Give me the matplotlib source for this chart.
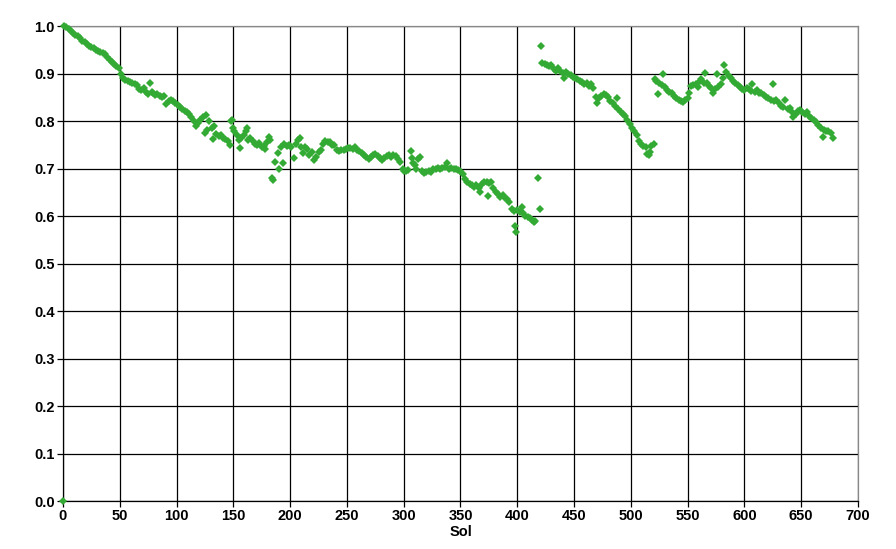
import matplotlib
matplotlib.use("Agg")
import matplotlib.pyplot as plt

# sol number and solar array dust factor
sol = [0,
       1, 3, 5, 7, 9, 11, 13, 15, 17, 19, 21, 23, 25, 27, 29, 31, 33, 35, 37, 39,
       41, 43, 45, 47, 49, 51, 53, 55, 57, 59, 61, 63, 65, 67, 69, 71, 73, 75, 77, 78,
       79, 81, 83, 85, 87, 89, 91, 93, 95, 97, 99, 101, 103, 105, 107, 109, 111, 113, 115, 117,
       119, 121, 123, 125, 126, 127, 129, 131, 132, 133, 135, 137, 139, 141, 143, 145, 147, 148, 149, 150,
       151, 153, 155, 156, 157, 159, 161, 162, 163, 165, 167, 169, 171, 173, 175, 177, 178, 180, 181, 182,
       184, 185, 187, 189, 190, 192, 194, 195, 197, 199, 201, 203, 205, 207, 209, 210, 211, 213, 215, 217,
       219, 221, 223, 225, 227, 229, 231, 233, 235, 237, 239, 241, 243, 245, 247, 249, 251, 253, 255, 257,
       259, 261, 263, 265, 267, 269, 271, 273, 275, 277, 279, 281, 283, 285, 287, 289, 291, 293, 295, 297,
       299, 300, 302, 304, 306, 307, 308, 310, 311, 313, 314, 316, 318, 320, 322, 324, 326, 328, 330, 332,
       334, 336, 338, 340, 342, 344, 346, 348, 350, 352, 354, 356, 358, 360, 362, 364, 366, 367, 369, 371,
       373, 374, 375, 377, 379, 381, 383, 385, 387, 389, 391, 393, 395, 397, 398, 399, 400, 402, 404, 405,
       407, 409, 411, 413, 415, 416, 418, 420,
       421, 422, 424, 426, 428, 430, 432, 434, 436, 438, 440, 441, 443, 445, 447, 449, 451, 453, 455, 457,
       459, 461, 463, 465, 467, 469, 470, 472, 474, 476, 478, 480, 482, 484, 486, 488, 489, 491, 493, 495,
       497, 499, 501, 503, 505, 507, 509, 511, 513, 514, 516, 517, 518, 520,
       521, 522, 524, 525, 527, 528, 530, 532, 534, 536, 538, 540, 542, 544, 546, 548, 550, 551, 553, 555,
       557, 559, 561, 562, 564, 565, 567, 569, 571, 572, 574, 576, 577, 579, 581, 582, 584, 586, 588, 590,
       592, 594, 596, 598, 600, 602, 604, 606, 607, 609, 611, 613, 615, 617, 619, 621, 623, 625, 626, 628,
       630, 632, 634, 636, 638, 640, 642, 643, 645, 647, 649, 651, 653, 655, 657, 659, 661, 663, 665, 667,
       669, 670, 672, 674, 676, 678]

dust_factor = [0.0,
       1.000, 0.998, 0.994, 0.990, 0.986, 0.982, 0.979, 0.975, 0.968, 0.966, 0.962, 0.958, 0.955, 0.953, 0.950, 0.947, 0.945, 0.944, 0.941, 0.934,
       0.929, 0.925, 0.920, 0.916, 0.912, 0.898, 0.890, 0.887, 0.884, 0.882, 0.879, 0.878, 0.876, 0.868, 0.865, 0.870, 0.862, 0.857, 0.880, 0.861,
       0.858, 0.855, 0.856, 0.853, 0.850, 0.852, 0.836, 0.842, 0.845, 0.843, 0.838, 0.834, 0.830, 0.826, 0.822, 0.818, 0.814, 0.808, 0.800, 0.790,
       0.795, 0.803, 0.808, 0.775, 0.812, 0.782, 0.800, 0.785, 0.763, 0.790, 0.772, 0.768, 0.770, 0.765, 0.762, 0.758, 0.750, 0.800, 0.802, 0.786,
       0.778, 0.770, 0.760, 0.743, 0.765, 0.770, 0.778, 0.785, 0.760, 0.764, 0.757, 0.752, 0.750, 0.754, 0.746, 0.748, 0.742, 0.755, 0.767, 0.760,
       0.680, 0.676, 0.713, 0.732, 0.700, 0.745, 0.711, 0.752, 0.748, 0.750, 0.746, 0.722, 0.752, 0.760, 0.764, 0.746, 0.733, 0.745, 0.742, 0.728,
       0.735, 0.718, 0.725, 0.735, 0.740, 0.752, 0.757, 0.755, 0.756, 0.750, 0.749, 0.738, 0.736, 0.740, 0.739, 0.742, 0.743, 0.744, 0.742, 0.745,
       0.740, 0.736, 0.732, 0.728, 0.724, 0.720, 0.724, 0.728, 0.730, 0.726, 0.722, 0.718, 0.722, 0.726, 0.728, 0.724, 0.728, 0.726, 0.720, 0.714,
       0.700, 0.695, 0.694, 0.697, 0.736, 0.722, 0.712, 0.708, 0.700, 0.720, 0.724, 0.694, 0.690, 0.692, 0.694, 0.693, 0.698, 0.700, 0.702, 0.698,
       0.701, 0.703, 0.712, 0.700, 0.702, 0.698, 0.700, 0.696, 0.694, 0.688, 0.678, 0.672, 0.668, 0.665, 0.662, 0.666, 0.660, 0.650, 0.668, 0.672,
       0.672, 0.643, 0.670, 0.671, 0.660, 0.650, 0.646, 0.640, 0.645, 0.638, 0.635, 0.630, 0.614, 0.610, 0.578, 0.567, 0.613, 0.608, 0.620, 0.606,
       0.600, 0.598, 0.595, 0.592, 0.588, 0.590, 0.680, 0.614,
       0.958, 0.922, 0.920, 0.918, 0.915, 0.918, 0.910, 0.906, 0.912, 0.905, 0.902, 0.890, 0.903, 0.898, 0.896, 0.893, 0.890, 0.888, 0.884, 0.882,
       0.878, 0.880, 0.874, 0.878, 0.870, 0.850, 0.838, 0.848, 0.852, 0.856, 0.855, 0.850, 0.843, 0.838, 0.832, 0.848, 0.826, 0.820, 0.815, 0.810,
       0.802, 0.794, 0.786, 0.778, 0.770, 0.758, 0.752, 0.748, 0.746, 0.730, 0.728, 0.735, 0.748, 0.752,
       0.889, 0.884, 0.857, 0.880, 0.876, 0.899, 0.872, 0.866, 0.862, 0.858, 0.853, 0.848, 0.845, 0.842, 0.840, 0.845, 0.848, 0.858, 0.874, 0.876,
       0.878, 0.872, 0.884, 0.888, 0.880, 0.902, 0.880, 0.874, 0.870, 0.859, 0.868, 0.900, 0.872, 0.878, 0.890, 0.918, 0.904, 0.895, 0.890, 0.885,
       0.880, 0.876, 0.872, 0.868, 0.866, 0.870, 0.868, 0.864, 0.878, 0.862, 0.866, 0.860, 0.858, 0.855, 0.850, 0.848, 0.845, 0.878, 0.842, 0.844,
       0.838, 0.832, 0.830, 0.844, 0.826, 0.827, 0.820, 0.809, 0.815, 0.822, 0.824, 0.818, 0.815, 0.818, 0.810, 0.806, 0.803, 0.798, 0.792, 0.786,
       0.766, 0.782, 0.780, 0.779, 0.775, 0.764]

x_ticks = list(range(0, 701, 50))
y_ticks = [i / 10 for i in range(11)]

plt.rcParams['font.family'] = ['Liberation Sans', 'DejaVu Sans']

fig = plt.figure(figsize=(8.96, 5.49), dpi=100)
ax = fig.add_axes([0.0703, 0.0874, 0.8873, 0.8652])

ax.plot(sol, dust_factor, linestyle='none', marker='D', markersize=3.7,
        color='#33AA33', markeredgewidth=0, clip_on=False, zorder=3)

ax.set_xlim(0, 700)
ax.set_ylim(0, 1.0)
ax.set_xticks(x_ticks)
ax.set_yticks(y_ticks)
ax.set_yticklabels(['%.1f' % v for v in y_ticks])
ax.grid(True, color='black', linewidth=0.9)
ax.set_axisbelow(True)

for lbl in ax.get_xticklabels() + ax.get_yticklabels():
    lbl.set_fontweight('bold')
    lbl.set_fontsize(10.5)
ax.tick_params(direction='out', length=4, width=0.9, color='black', pad=2)

ax.set_xlabel('Sol', fontsize=10.5, fontweight='bold', labelpad=1)

ax.spines['left'].set_color('black')
ax.spines['bottom'].set_color('black')
ax.spines['top'].set_color('#888888')
ax.spines['right'].set_color('#888888')
for s in ax.spines.values():
    s.set_linewidth(0.9)
    s.set_zorder(2)

fig.savefig('out.png', dpi=100)
